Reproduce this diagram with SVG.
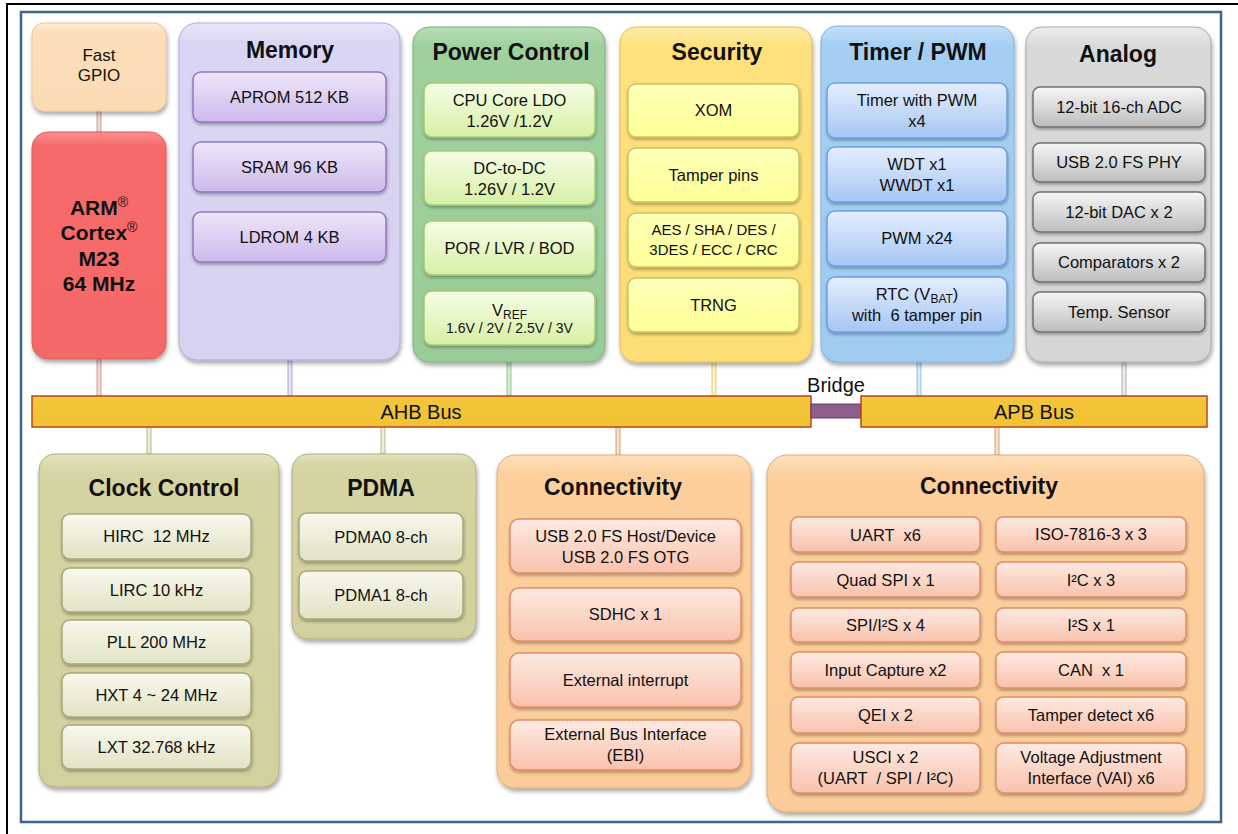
<svg xmlns="http://www.w3.org/2000/svg" width="1238" height="834" viewBox="0 0 1238 834">
<style>
text{font-family:"Liberation Sans",Arial,sans-serif;fill:#111;text-anchor:middle}
.t{font-size:23px;font-weight:bold}
.b{font-size:16.5px}
.s{font-size:14px}
.bus{font-size:20px}
.g{filter:url(#sh)}
.i{filter:url(#sh2);stroke-width:1.5}
.cn{stroke-width:0.8}
</style>
<defs>
<filter id="sh" x="-10%" y="-10%" width="125%" height="125%"><feDropShadow dx="1" dy="3" stdDeviation="2.2" flood-color="#000" flood-opacity="0.35"/></filter>
<filter id="sh2" x="-10%" y="-10%" width="125%" height="140%"><feDropShadow dx="0.5" dy="2" stdDeviation="1.5" flood-color="#000" flood-opacity="0.3"/></filter>
<linearGradient id="gMem" x1="0" y1="0" x2="0" y2="1"><stop offset="0" stop-color="#E9E6F8"/><stop offset="0.06" stop-color="#D9D5F2"/><stop offset="1" stop-color="#D6D2F0"/></linearGradient>
<linearGradient id="gPow" x1="0" y1="0" x2="0" y2="1"><stop offset="0" stop-color="#B8DEB6"/><stop offset="0.06" stop-color="#9FD09D"/><stop offset="1" stop-color="#9ACC98"/></linearGradient>
<linearGradient id="gSec" x1="0" y1="0" x2="0" y2="1"><stop offset="0" stop-color="#FFEDA8"/><stop offset="0.06" stop-color="#FEE07C"/><stop offset="1" stop-color="#FDDD76"/></linearGradient>
<linearGradient id="gTim" x1="0" y1="0" x2="0" y2="1"><stop offset="0" stop-color="#C4E0F8"/><stop offset="0.06" stop-color="#A4CFF3"/><stop offset="1" stop-color="#A0CCF2"/></linearGradient>
<linearGradient id="gAna" x1="0" y1="0" x2="0" y2="1"><stop offset="0" stop-color="#EDEDED"/><stop offset="0.06" stop-color="#D9D9D9"/><stop offset="1" stop-color="#D6D6D6"/></linearGradient>
<linearGradient id="gClk" x1="0" y1="0" x2="0" y2="1"><stop offset="0" stop-color="#E4E3BE"/><stop offset="0.06" stop-color="#D5D4A2"/><stop offset="1" stop-color="#D2D19E"/></linearGradient>
<linearGradient id="gCon" x1="0" y1="0" x2="0" y2="1"><stop offset="0" stop-color="#FDE0BC"/><stop offset="0.06" stop-color="#FCCF9C"/><stop offset="1" stop-color="#FBCC98"/></linearGradient>
<linearGradient id="gArm" x1="0" y1="0" x2="0" y2="1"><stop offset="0" stop-color="#F98E8E"/><stop offset="0.06" stop-color="#F86B6B"/><stop offset="1" stop-color="#F66868"/></linearGradient>
<linearGradient id="gGpio" x1="0" y1="0" x2="0" y2="1"><stop offset="0" stop-color="#FDEBD2"/><stop offset="0.1" stop-color="#FCDFBA"/><stop offset="1" stop-color="#FBDBB4"/></linearGradient>
<linearGradient id="iMem" x1="0" y1="0" x2="0" y2="1"><stop offset="0" stop-color="#EEE6FA"/><stop offset="1" stop-color="#CDB9EC"/></linearGradient>
<linearGradient id="iPow" x1="0" y1="0" x2="0" y2="1"><stop offset="0" stop-color="#F7FDE6"/><stop offset="1" stop-color="#D6F0A6"/></linearGradient>
<linearGradient id="iSec" x1="0" y1="0" x2="0" y2="1"><stop offset="0" stop-color="#FFFFB8"/><stop offset="1" stop-color="#FFFF96"/></linearGradient>
<linearGradient id="iTim" x1="0" y1="0" x2="0" y2="1"><stop offset="0" stop-color="#E4EEFD"/><stop offset="1" stop-color="#A6C6F4"/></linearGradient>
<linearGradient id="iAna" x1="0" y1="0" x2="0" y2="1"><stop offset="0" stop-color="#F6F6F6"/><stop offset="1" stop-color="#BDBDBD"/></linearGradient>
<linearGradient id="iClk" x1="0" y1="0" x2="0" y2="1"><stop offset="0" stop-color="#F8F8EE"/><stop offset="1" stop-color="#E2E2C4"/></linearGradient>
<linearGradient id="iCon" x1="0" y1="0" x2="0" y2="1"><stop offset="0" stop-color="#FDEAE2"/><stop offset="1" stop-color="#F9C2AC"/></linearGradient>
<linearGradient id="gBus" x1="0" y1="0" x2="0" y2="1"><stop offset="0" stop-color="#F4C63C"/><stop offset="1" stop-color="#F1C232"/></linearGradient>
</defs>

<rect x="7" y="4" width="1240" height="840" fill="#fff" stroke="#000" stroke-width="2"/>
<rect x="21" y="12" width="1200" height="810" fill="none" stroke="#3E6396" stroke-width="2.5"/>

<g id="connectors">
<rect class="cn" x="97" y="111" width="4" height="21" fill="#F4D6D6" stroke="#C08C8C"/>
<rect class="cn" x="97" y="359" width="4" height="37" fill="#F4D6D6" stroke="#C08C8C"/>
<rect class="cn" x="288" y="360" width="4" height="36" fill="#E6E4F6" stroke="#9C96C8"/>
<rect class="cn" x="507" y="362" width="4" height="34" fill="#D2ECD0" stroke="#86B884"/>
<rect class="cn" x="712" y="362" width="4" height="34" fill="#FFF6B8" stroke="#CFC070"/>
<rect class="cn" x="917" y="362" width="4" height="34" fill="#D6EBFB" stroke="#84B4DE"/>
<rect class="cn" x="1122" y="362" width="4" height="34" fill="#EEEEEE" stroke="#9C9C9C"/>
<rect class="cn" x="147" y="427" width="4" height="27" fill="#EEEED6" stroke="#A8A878"/>
<rect class="cn" x="381" y="427" width="4" height="27" fill="#EEEED6" stroke="#A8A878"/>
<rect class="cn" x="616" y="427" width="4" height="28" fill="#FBE2C4" stroke="#B89068"/>
<rect class="cn" x="995" y="427" width="4" height="28" fill="#FBE2C4" stroke="#B89068"/>
</g>

<g id="gpio">
<rect class="g" x="32" y="23" width="134" height="88" rx="12" fill="url(#gGpio)" stroke="#E8C8A0" stroke-width="1"/>
<text class="b" x="99" y="61" style="font-size:17px">Fast</text>
<text class="b" x="99" y="81" style="font-size:17px">GPIO</text>
</g>

<g id="arm">
<rect class="g" x="32" y="132" width="134" height="227" rx="16" fill="url(#gArm)" stroke="#DC5C5C" stroke-width="1"/>
<text x="99" y="215" style="font-size:21px;font-weight:bold">ARM<tspan dy="-8" style="font-size:14px;font-weight:normal">®</tspan></text>
<text x="99" y="240" style="font-size:21px;font-weight:bold">Cortex<tspan dy="-8" style="font-size:14px;font-weight:normal">®</tspan></text>
<text x="99" y="266" style="font-size:21px;font-weight:bold">M23</text>
<text x="99" y="291" style="font-size:21px;font-weight:bold">64 MHz</text>
</g>

<g id="memory">
<rect class="g" x="179" y="23" width="221" height="337" rx="18" fill="url(#gMem)" stroke="#B0AAD6" stroke-width="1"/>
<text class="t" x="290" y="58">Memory</text>
<rect class="i" x="193" y="72" width="193" height="50" rx="8" fill="url(#iMem)" stroke="#9278BE"/>
<text class="b" x="289.5" y="103">APROM 512 KB</text>
<rect class="i" x="193" y="142" width="193" height="50" rx="8" fill="url(#iMem)" stroke="#9278BE"/>
<text class="b" x="289.5" y="173">SRAM 96 KB</text>
<rect class="i" x="193" y="212" width="193" height="50" rx="8" fill="url(#iMem)" stroke="#9278BE"/>
<text class="b" x="289.5" y="243">LDROM 4 KB</text>
</g>

<g id="power">
<rect class="g" x="413" y="27" width="192" height="335" rx="16" fill="url(#gPow)" stroke="#7CB07A" stroke-width="1"/>
<text class="t" x="511" y="60">Power Control</text>
<rect class="i" x="424" y="83" width="171" height="54" rx="8" fill="url(#iPow)" stroke="#A4CC72"/>
<text class="b" x="509.5" y="106">CPU Core LDO</text>
<text class="b" x="509.5" y="127">1.26V /1.2V</text>
<rect class="i" x="424" y="151" width="171" height="54" rx="8" fill="url(#iPow)" stroke="#A4CC72"/>
<text class="b" x="509.5" y="174">DC-to-DC</text>
<text class="b" x="509.5" y="195">1.26V / 1.2V</text>
<rect class="i" x="424" y="221" width="171" height="54" rx="8" fill="url(#iPow)" stroke="#A4CC72"/>
<text class="b" x="509.5" y="254">POR / LVR / BOD</text>
<rect class="i" x="424" y="291" width="171" height="54" rx="8" fill="url(#iPow)" stroke="#A4CC72"/>
<text class="b" x="509.5" y="316">V<tspan dy="3" style="font-size:12px">REF</tspan></text>
<text class="s" x="509.5" y="333">1.6V / 2V / 2.5V / 3V</text>
</g>

<g id="security">
<rect class="g" x="620" y="27" width="192" height="335" rx="16" fill="url(#gSec)" stroke="#E2BE50" stroke-width="1"/>
<text class="t" x="717" y="60">Security</text>
<rect class="i" x="628" y="84" width="171" height="53" rx="8" fill="url(#iSec)" stroke="#C6C666"/>
<text class="b" x="713.5" y="116">XOM</text>
<rect class="i" x="628" y="148" width="171" height="54" rx="8" fill="url(#iSec)" stroke="#C6C666"/>
<text class="b" x="713.5" y="181">Tamper pins</text>
<rect class="i" x="628" y="213" width="171" height="54" rx="8" fill="url(#iSec)" stroke="#C6C666"/>
<text class="b" x="713.5" y="235" style="font-size:15px">AES / SHA / DES /</text>
<text class="b" x="713.5" y="255" style="font-size:15px">3DES / ECC / CRC</text>
<rect class="i" x="628" y="278" width="171" height="54" rx="8" fill="url(#iSec)" stroke="#C6C666"/>
<text class="b" x="713.5" y="311">TRNG</text>
</g>

<g id="timer">
<rect class="g" x="821" y="26" width="193" height="336" rx="16" fill="url(#gTim)" stroke="#7EB0DC" stroke-width="1"/>
<text class="t" x="918" y="60">Timer / PWM</text>
<rect class="i" x="827" y="83" width="180" height="55" rx="8" fill="url(#iTim)" stroke="#6E9EE0"/>
<text class="b" x="917" y="106">Timer with PWM</text>
<text class="b" x="917" y="127">x4</text>
<rect class="i" x="827" y="147" width="180" height="55" rx="8" fill="url(#iTim)" stroke="#6E9EE0"/>
<text class="b" x="917" y="170">WDT x1</text>
<text class="b" x="917" y="191">WWDT x1</text>
<rect class="i" x="827" y="211" width="180" height="55" rx="8" fill="url(#iTim)" stroke="#6E9EE0"/>
<text class="b" x="917" y="244">PWM x24</text>
<rect class="i" x="827" y="277" width="180" height="55" rx="8" fill="url(#iTim)" stroke="#6E9EE0"/>
<text class="b" x="917" y="300">RTC (V<tspan dy="3" style="font-size:12px">BAT</tspan><tspan dy="-3">)</tspan></text>
<text class="b" x="917" y="321" xml:space="preserve">with  6 tamper pin</text>
</g>

<g id="analog">
<rect class="g" x="1026" y="27" width="185" height="335" rx="16" fill="url(#gAna)" stroke="#AAAAAA" stroke-width="1"/>
<text class="t" x="1118" y="62">Analog</text>
<rect class="i" x="1033" y="87" width="172" height="40" rx="7" fill="url(#iAna)" stroke="#707070"/>
<text class="b" x="1119" y="113">12-bit 16-ch ADC</text>
<rect class="i" x="1033" y="143" width="172" height="39" rx="7" fill="url(#iAna)" stroke="#707070"/>
<text class="b" x="1119" y="168">USB 2.0 FS PHY</text>
<rect class="i" x="1033" y="192" width="172" height="40" rx="7" fill="url(#iAna)" stroke="#707070"/>
<text class="b" x="1119" y="218">12-bit DAC x 2</text>
<rect class="i" x="1033" y="243" width="172" height="39" rx="7" fill="url(#iAna)" stroke="#707070"/>
<text class="b" x="1119" y="268">Comparators x 2</text>
<rect class="i" x="1033" y="292" width="172" height="40" rx="7" fill="url(#iAna)" stroke="#707070"/>
<text class="b" x="1119" y="318">Temp. Sensor</text>
</g>

<g id="ahb">
<rect x="32" y="396" width="779" height="31" fill="url(#gBus)" stroke="#B8461C" stroke-width="1.5"/>
<text class="bus" x="421" y="419">AHB Bus</text>
</g>
<g id="bridge">
<rect x="811" y="404" width="50" height="14" fill="#8E5E8E" stroke="#5E3E5E" stroke-width="1"/>
<text class="bus" x="836" y="392">Bridge</text>
</g>
<g id="apb">
<rect x="861" y="396" width="346" height="31" fill="url(#gBus)" stroke="#B8461C" stroke-width="1.5"/>
<text class="bus" x="1034" y="419">APB Bus</text>
</g>

<g id="clock">
<rect class="g" x="39" y="454" width="240" height="333" rx="16" fill="url(#gClk)" stroke="#B0AE80" stroke-width="1"/>
<text class="t" x="164" y="496">Clock Control</text>
<rect class="i" x="62" y="514" width="189" height="45" rx="8" fill="url(#iClk)" stroke="#A8A67C"/>
<text class="b" x="156.5" y="542" xml:space="preserve">HIRC  12 MHz</text>
<rect class="i" x="62" y="568" width="189" height="44" rx="8" fill="url(#iClk)" stroke="#A8A67C"/>
<text class="b" x="156.5" y="596">LIRC 10 kHz</text>
<rect class="i" x="62" y="620" width="189" height="44" rx="8" fill="url(#iClk)" stroke="#A8A67C"/>
<text class="b" x="156.5" y="648">PLL 200 MHz</text>
<rect class="i" x="62" y="673" width="189" height="44" rx="8" fill="url(#iClk)" stroke="#A8A67C"/>
<text class="b" x="156.5" y="701">HXT 4 ~ 24 MHz</text>
<rect class="i" x="62" y="725" width="189" height="44" rx="8" fill="url(#iClk)" stroke="#A8A67C"/>
<text class="b" x="156.5" y="753">LXT 32.768 kHz</text>
</g>

<g id="pdma">
<rect class="g" x="292" y="454" width="184" height="185" rx="16" fill="url(#gClk)" stroke="#B0AE80" stroke-width="1"/>
<text class="t" x="381" y="496">PDMA</text>
<rect class="i" x="299" y="513" width="164" height="48" rx="8" fill="url(#iClk)" stroke="#A8A67C"/>
<text class="b" x="381" y="543">PDMA0 8-ch</text>
<rect class="i" x="299" y="571" width="164" height="48" rx="8" fill="url(#iClk)" stroke="#A8A67C"/>
<text class="b" x="381" y="601">PDMA1 8-ch</text>
</g>

<g id="conn-ahb">
<rect class="g" x="497" y="455" width="254" height="333" rx="18" fill="url(#gCon)" stroke="#E4AA74" stroke-width="1"/>
<text class="t" x="613" y="495">Connectivity</text>
<rect class="i" x="510" y="519" width="231" height="54" rx="9" fill="url(#iCon)" stroke="#E28C68"/>
<text class="b" x="625.5" y="542">USB 2.0 FS Host/Device</text>
<text class="b" x="625.5" y="563">USB 2.0 FS OTG</text>
<rect class="i" x="510" y="588" width="231" height="53" rx="9" fill="url(#iCon)" stroke="#E28C68"/>
<text class="b" x="625.5" y="620">SDHC x 1</text>
<rect class="i" x="510" y="653" width="231" height="54" rx="9" fill="url(#iCon)" stroke="#E28C68"/>
<text class="b" x="625.5" y="686">External interrupt</text>
<rect class="i" x="510" y="720" width="231" height="50" rx="9" fill="url(#iCon)" stroke="#E28C68"/>
<text class="b" x="625.5" y="740">External Bus Interface</text>
<text class="b" x="625.5" y="761">(EBI)</text>
</g>

<g id="conn-apb">
<rect class="g" x="767" y="455" width="437" height="357" rx="20" fill="url(#gCon)" stroke="#E4AA74" stroke-width="1"/>
<text class="t" x="989" y="494">Connectivity</text>
<rect class="i" x="791" y="517" width="189" height="35" rx="7" fill="url(#iCon)" stroke="#E28C68"/>
<text class="b" x="885.5" y="541" xml:space="preserve">UART  x6</text>
<rect class="i" x="996" y="517" width="190" height="35" rx="7" fill="url(#iCon)" stroke="#E28C68"/>
<text class="b" x="1091" y="540">ISO-7816-3 x 3</text>
<rect class="i" x="791" y="562" width="189" height="35" rx="7" fill="url(#iCon)" stroke="#E28C68"/>
<text class="b" x="885.5" y="586">Quad SPI x 1</text>
<rect class="i" x="996" y="562" width="190" height="35" rx="7" fill="url(#iCon)" stroke="#E28C68"/>
<text class="b" x="1091" y="586">I²C x 3</text>
<rect class="i" x="791" y="608" width="189" height="34" rx="7" fill="url(#iCon)" stroke="#E28C68"/>
<text class="b" x="885.5" y="631">SPI/I²S x 4</text>
<rect class="i" x="996" y="608" width="190" height="34" rx="7" fill="url(#iCon)" stroke="#E28C68"/>
<text class="b" x="1091" y="631">I²S x 1</text>
<rect class="i" x="791" y="652" width="189" height="36" rx="7" fill="url(#iCon)" stroke="#E28C68"/>
<text class="b" x="885.5" y="676">Input Capture x2</text>
<rect class="i" x="996" y="652" width="190" height="36" rx="7" fill="url(#iCon)" stroke="#E28C68"/>
<text class="b" x="1091" y="676" xml:space="preserve">CAN  x 1</text>
<rect class="i" x="791" y="697" width="189" height="36" rx="7" fill="url(#iCon)" stroke="#E28C68"/>
<text class="b" x="885.5" y="721">QEI x 2</text>
<rect class="i" x="996" y="697" width="190" height="36" rx="7" fill="url(#iCon)" stroke="#E28C68"/>
<text class="b" x="1091" y="721">Tamper detect x6</text>
<rect class="i" x="791" y="743" width="189" height="50" rx="8" fill="url(#iCon)" stroke="#E28C68"/>
<text class="b" x="885.5" y="763">USCI x 2</text>
<text class="b" x="885.5" y="784" xml:space="preserve">(UART  / SPI / I²C)</text>
<rect class="i" x="996" y="743" width="190" height="50" rx="8" fill="url(#iCon)" stroke="#E28C68"/>
<text class="b" x="1091" y="763">Voltage Adjustment</text>
<text class="b" x="1091" y="784">Interface (VAI) x6</text>
</g>
</svg>
